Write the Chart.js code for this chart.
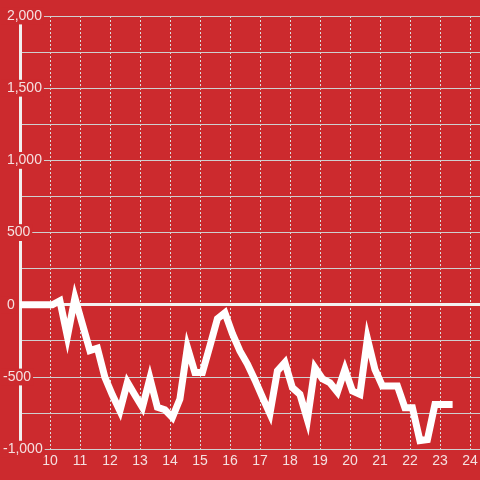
<!DOCTYPE html>
<html>
<head>
<meta charset="utf-8">
<script src="https://cdn.jsdelivr.net/npm/chart.js@4.4.6/dist/chart.umd.min.js"></script>
<style>
  html, body { margin: 0; padding: 0; background: #cc2a2e; }
  #chart { display: block; }
</style>
</head>
<body>
<canvas id="chart" width="480" height="480"></canvas>
<script>
/* colours */
const bg = "#cc2a2e";
const textColor = "#f5e0e0";

/* data: hour of day and running value */
const hours = [8.5, 10.08, 10.33, 10.58, 10.83, 11.08, 11.33, 11.58, 11.83, 12.08,
  12.33, 12.58, 12.83, 13.08, 13.33, 13.58, 13.83, 14.08, 14.33, 14.58,
  14.83, 15.08, 15.33, 15.58, 15.83, 16.08, 16.33, 16.58, 16.83, 17.08,
  17.33, 17.58, 17.83, 18.08, 18.33, 18.58, 18.83, 19.08, 19.33, 19.58,
  19.83, 20.08, 20.33, 20.58, 20.83, 21.08, 21.33, 21.58, 21.83, 22.08,
  22.33, 22.58, 22.83, 23.08, 23.33, 23.42];
const values = [0, 0, 28, -220, 48, -135, -317, -300, -502, -625,
  -734, -537, -625, -710, -509, -710, -727, -780, -653, -294,
  -468, -468, -285, -97, -55, -200, -320, -410, -520, -640,
  -755, -458, -400, -574, -620, -795, -435, -512, -540, -604,
  -447, -597, -620, -234, -447, -562, -562, -562, -713, -713,
  -940, -933, -690, -690, -690, -690];

/* axis ranges */
const xMin = 9, xMax = 24.333, xFirstLabel = 10;
const yMin = -1000, yMax = 2000, yStep = 250, yLabelStep = 500;

const points = hours.map((h, i) => ({ x: h, y: values[i] }));

const font = { family: "'Liberation Sans', Arial, sans-serif", size: 14, lineHeight: 1.2 };

new Chart(document.getElementById("chart"), {
  type: "line",
  data: {
    datasets: [{
      data: points,
      borderColor: "#ffffff",
      borderWidth: 7,
      pointRadius: 0,
      tension: 0,
      fill: false
    }]
  },
  options: {
    responsive: false,
    animation: false,
    layout: { padding: { top: 16, left: 20, right: 0, bottom: 6 } },
    plugins: { legend: { display: false }, tooltip: { enabled: false } },
    scales: {
      x: {
        type: "linear",
        min: xMin,
        max: xMax,
        afterBuildTicks: (s) => { s.ticks = s.ticks.filter(t => t.value >= xFirstLabel); },
        afterFit: (s) => { s.paddingLeft = 0; s.paddingRight = 0; },
        ticks: {
          stepSize: 1,
          includeBounds: false,
          autoSkip: false,
          maxRotation: 0,
          padding: 4,
          color: textColor,
          font: font
        },
        grid: { color: "#dcdcdc", lineWidth: 1, drawTicks: false },
        border: { display: false, dash: [2, 2] }
      },
      y: {
        type: "linear",
        min: yMin,
        max: yMax,
        // mirrored labels pulled back so they sit over the axis line
        afterFit: (s) => { s.width = 0; s.paddingTop = 0; s.paddingBottom = 0; },
        ticks: {
          stepSize: yStep,
          mirror: true,
          crossAlign: "near",
          padding: -17,
          color: textColor,
          font: font,
          showLabelBackdrop: (c) => c.tick && c.tick.value % yLabelStep === 0,
          backdropColor: bg,
          backdropPadding: { top: 0, bottom: 0, left: 2, right: 2 },
          callback: (v) => v % yLabelStep === 0 ? (v < 0 ? "" : " ") + v.toLocaleString("en-US") : ""
        },
        grid: {
          drawTicks: false,
          color: (c) => c.tick && c.tick.value === 0 ? "#f2f0f0" : "#cfcfcf",
          lineWidth: (c) => c.tick && c.tick.value === 0 ? 3 : 1
        },
        border: { display: true, color: "#f2f0f0", width: 3 }
      }
    }
  }
});
</script>
</body>
</html>
